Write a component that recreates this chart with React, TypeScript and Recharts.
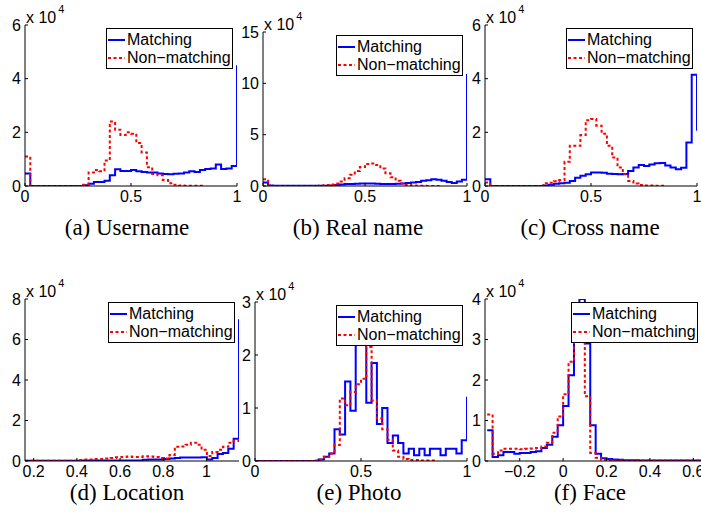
import { LineChart, Line, XAxis, YAxis, Legend } from "recharts";

// values in units of 10^4, one per histogram bin
// (a) Username, bins of 0.025 from 0
const usernameMatch = [0.47, 0, 0, 0, 0, 0, 0, 0, 0, 0, 0, 0.03, 0.08, 0.15, 0.15, 0.2, 0.4, 0.62, 0.56, 0.56, 0.6, 0.55, 0.52, 0.5, 0.5, 0.47, 0.45, 0.44, 0.46, 0.47, 0.5, 0.55, 0.52, 0.6, 0.63, 0.65, 0.8, 0.63, 0.65, 0.75];
const usernameMatchEdge = 4.5;
const usernameNon = [1.1, 0, 0, 0, 0, 0, 0, 0, 0, 0, 0, 0.05, 0.5, 0.6, 0.55, 0.95, 2.4, 2.1, 1.9, 2.0, 1.95, 1.6, 1.25, 0.7, 0.45, 0.4, 0.22, 0.1, 0.05, 0.02, 0.01, 0.01, 0.01, 0.01];

// (b) Real name
const realMatch = [0.35, 0.05, 0.02, 0.02, 0.02, 0.02, 0.02, 0.02, 0.02, 0.02, 0.02, 0.02, 0.02, 0.05, 0.1, 0.15, 0.2, 0.2, 0.22, 0.25, 0.25, 0.25, 0.22, 0.2, 0.2, 0.2, 0.22, 0.25, 0.3, 0.35, 0.4, 0.5, 0.55, 0.65, 0.6, 0.5, 0.4, 0.3, 0.45, 0.6];
const realMatchEdge = 10.9;
const realNon = [0.65, 0.05, 0, 0, 0, 0, 0, 0, 0, 0, 0, 0.05, 0.1, 0.15, 0.25, 0.45, 0.75, 1.1, 1.45, 1.85, 2.15, 2.2, 2.05, 1.7, 1.25, 0.85, 0.5, 0.25, 0.1, 0.05, 0.02, 0.02, 0.01, 0.01, 0.01];

// (c) Cross name
const crossMatch = [0.25, 0, 0, 0, 0, 0, 0, 0, 0, 0, 0, 0.02, 0.05, 0.08, 0.1, 0.12, 0.19, 0.31, 0.38, 0.44, 0.5, 0.5, 0.49, 0.46, 0.45, 0.44, 0.45, 0.56, 0.69, 0.78, 0.75, 0.8, 0.85, 0.86, 0.76, 0.69, 0.62, 0.68, 1.62, 4.15];
const crossMatchEdge = 2.06;
const crossNon = [0.13, 0, 0, 0, 0, 0, 0, 0, 0, 0, 0, 0.1, 0.12, 0.18, 0.22, 0.9, 1.5, 1.5, 1.9, 2.45, 2.5, 2.25, 1.95, 1.5, 1.06, 0.69, 0.44, 0.19, 0.09, 0.04, 0.02, 0.02, 0.01, 0.01];

// (d) Location, bins of 0.02475 from 0.16
const locationMatch = [0.01, 0.01, 0.01, 0.01, 0.01, 0.01, 0.01, 0.01, 0.01, 0.01, 0.01, 0.03, 0.03, 0.03, 0.03, 0.03, 0.03, 0.03, 0.03, 0.03, 0.03, 0.03, 0.06, 0.07, 0.08, 0.08, 0.1, 0.12, 0.15, 0.17, 0.17, 0.17, 0.17, 0.18, 0.08, 0.15, 0.35, 0.4, 0.6, 1.1];
const locationMatchEdge = 7.0;
const locationNon = [0.01, 0.01, 0.01, 0.01, 0.01, 0.01, 0.01, 0.01, 0.01, 0.01, 0.05, 0.07, 0.08, 0.1, 0.1, 0.12, 0.15, 0.18, 0.2, 0.22, 0.2, 0.2, 0.23, 0.22, 0.2, 0.15, 0.12, 0.3, 0.7, 0.72, 0.8, 0.9, 0.8, 0.55, 0.25, 0.45, 0.55, 0.7, 0.9, 1.0];
const locationNonEdge = 0.85;

// (e) Photo
const photoMatch = [0, 0, 0, 0, 0, 0, 0, 0, 0, 0, 0, 0, 0.03, 0.08, 0.14, 0.6, 0.5, 1.5, 0.95, 2.6, 2.4, 1.1, 1.85, 0.7, 1.0, 0.34, 0.48, 0.34, 0.14, 0.23, 0.11, 0.23, 0.11, 0.23, 0.23, 0.11, 0.23, 0.23, 0.14, 0.39];
const photoMatchEdge = 1.21;
const photoNon = [0, 0, 0, 0, 0, 0, 0, 0, 0, 0, 0, 0.01, 0.03, 0.08, 0.14, 0.3, 1.18, 1.05, 1.3, 1.45, 1.55, 2.15, 1.14, 0.8, 0.6, 0.4, 0.2, 0.08, 0.04, 0.02, 0.02, 0.01, 0.01, 0.01];

// (f) Face, bins of 0.025 from -0.35
const faceMatch = [0.76, 0.1, 0.14, 0.22, 0.22, 0.18, 0.2, 0.2, 0.22, 0.24, 0.32, 0.4, 0.6, 0.88, 1.36, 2.12, 2.95, 4.0, 2.9, 0.88, 0.18, 0.07, 0.05, 0.04, 0.03, 0.02, 0.02, 0.02, 0.01, 0.01, 0.01, 0.01, 0.01, 0.01, 0.01, 0.01, 0.01, 0.01, 0.01, 0.01];
const faceNon = [1.15, 0.18, 0.26, 0.3, 0.3, 0.3, 0.29, 0.3, 0.31, 0.32, 0.36, 0.45, 0.7, 1.1, 1.65, 2.45, 3.0, 3.6, 1.6, 0.2, 0.08, 0.03, 0.01, 0.01, 0.01, 0.01, 0.01, 0.01, 0.01, 0.01, 0.01, 0.01, 0.01, 0.01, 0.01, 0.01, 0.01, 0.01, 0.01, 0.01];

const unitTicks = [0, 0.5, 1];
const locationTicks = [0.2, 0.4, 0.6, 0.8, 1];
const faceTicks = [-0.2, 0, 0.2, 0.4, 0.6];

const FONT = '"Liberation Sans", Arial, Helvetica, sans-serif';
const BLUE = "#0000ff";
const RED = "#ff0000";
const DOTS = "3 2.5";

type Pt = { x: number; y: number };

function steps(start: number, width: number, values: number[], edge?: number): Pt[] {
  const pts = values.map((v, i) => ({ x: start + i * width, y: v }));
  pts.push({ x: start + values.length * width, y: edge ?? values[values.length - 1] });
  return pts;
}

const fmt = (v: number) => (v < 0 ? "\u2212" + Math.abs(v) : String(v));

const XTick = (p: any) => (
  <g>
    <line x1={p.x} x2={p.x} y1={p.y - 5} y2={p.y - 8} stroke="#000" />
    <text x={p.x} y={p.y} dy="0.71em" textAnchor="middle" fontSize={16} fontFamily={FONT} fill="#000">
      {fmt(p.payload.value)}
    </text>
  </g>
);

const YTick = (p: any) => (
  <g>
    <line x1={p.x + 4} x2={p.x + 7} y1={p.y} y2={p.y} stroke="#000" />
    <text x={p.x} y={p.y} dy="0.36em" textAnchor="end" fontSize={16} fontFamily={FONT} fill="#000">
      {fmt(p.payload.value)}
    </text>
  </g>
);

const ExpLabel = (p: any) => {
  const vb = p.viewBox;
  const x = vb.x + vb.width + 1;
  return (
    <text x={x} y={vb.y - 2} fontSize={16} fontFamily={FONT} fill="#000">
      x 10
      <tspan dx={2} dy={-10} fontSize={11}>4</tspan>
    </text>
  );
};

const LegendBox = () => (
  <div
    style={{
      boxSizing: "border-box",
      width: 127,
      height: 41,
      border: "1px solid #000",
      background: "#fff",
      fontFamily: FONT,
      fontSize: 16,
      lineHeight: "18px",
      paddingTop: 2,
      color: "#000",
    }}
  >
    {[
      { name: "Matching", color: BLUE, dash: undefined },
      { name: "Non\u2212matching", color: RED, dash: DOTS },
    ].map((r) => (
      <div key={r.name} style={{ display: "flex", alignItems: "center", height: 18 }}>
        <svg width={20} height={18} style={{ flex: "none" }}>
          <line x1={1} x2={18} y1={9} y2={9} stroke={r.color} strokeWidth={2} strokeDasharray={r.dash} />
        </svg>
        <span style={{ whiteSpace: "nowrap" }}>{r.name}</span>
      </div>
    ))}
  </div>
);

type PanelProps = {
  left: number;
  top: number;
  w: number;
  h: number;
  domain: [number, number];
  xTicks: number[];
  yTicks: number[];
  match: Pt[];
  non: Pt[];
};

const YW = 45;
const TOPM = 30;
const BOTM = 30;

function Panel({ left, top, w, h, domain, xTicks, yTicks, match, non }: PanelProps) {
  const yMax = yTicks[yTicks.length - 1];
  return (
    <div style={{ position: "absolute", left: left - YW, top: top - TOPM }}>
      <LineChart width={YW + w + 12} height={TOPM + h + BOTM} margin={{ top: TOPM, right: 12, bottom: 0, left: 0 }}>
        <XAxis
          dataKey="x"
          type="number"
          domain={domain}
          ticks={xTicks}
          interval={0}
          allowDataOverflow
          height={BOTM}
          tickSize={0}
          tickMargin={5}
          tickLine={false}
          axisLine={{ stroke: "#000" }}
          tick={XTick}
        />
        <YAxis
          type="number"
          domain={[0, yMax]}
          ticks={yTicks}
          interval={0}
          allowDataOverflow
          width={YW}
          tickSize={0}
          tickMargin={4}
          tickLine={false}
          axisLine={{ stroke: "#000" }}
          tick={YTick}
          label={ExpLabel}
        />
        <Line data={match} dataKey="y" type="stepAfter" stroke={BLUE} strokeWidth={2} dot={false} activeDot={false} isAnimationActive={false} />
        <Line data={non} dataKey="y" type="stepAfter" stroke={RED} strokeWidth={2} strokeDasharray={DOTS} dot={false} activeDot={false} isAnimationActive={false} />
        <Legend
          layout="horizontal"
          verticalAlign="middle"
          align="center"
          wrapperStyle={{ left: YW + w - 131, top: TOPM + 3, width: 127, height: 41 }}
          content={LegendBox}
        />
      </LineChart>
    </div>
  );
}

const captions = ["(a) Username", "(b) Real name", "(c) Cross name", "(d) Location", "(e) Photo", "(f) Face"];

export default function App() {
  const panels: PanelProps[] = [
    { left: 25, top: 25, w: 212, h: 161, domain: [0, 1], xTicks: unitTicks, yTicks: [0, 2, 4, 6], match: steps(0, 0.025, usernameMatch, usernameMatchEdge), non: steps(0, 0.025, usernameNon) },
    { left: 263, top: 32, w: 204, h: 154, domain: [0, 1], xTicks: unitTicks, yTicks: [0, 5, 10, 15], match: steps(0, 0.025, realMatch, realMatchEdge), non: steps(0, 0.025, realNon) },
    { left: 485, top: 25, w: 212, h: 161, domain: [0, 1], xTicks: unitTicks, yTicks: [0, 2, 4, 6], match: steps(0, 0.025, crossMatch, crossMatchEdge), non: steps(0, 0.025, crossNon) },
    { left: 25, top: 299, w: 214, h: 162, domain: [0.16, 1.15], xTicks: locationTicks, yTicks: [0, 2, 4, 6, 8], match: steps(0.16, 0.02475, locationMatch, locationMatchEdge), non: steps(0.16, 0.02475, locationNon, locationNonEdge) },
    { left: 255, top: 302, w: 212, h: 159, domain: [0, 1], xTicks: unitTicks, yTicks: [0, 1, 2, 3], match: steps(0, 0.025, photoMatch, photoMatchEdge), non: steps(0, 0.025, photoNon) },
    { left: 485, top: 299, w: 217, h: 162, domain: [-0.36, 0.64], xTicks: faceTicks, yTicks: [0, 1, 2, 3, 4], match: steps(-0.35, 0.025, faceMatch), non: steps(-0.35, 0.025, faceNon) },
  ];
  const capPos = [
    [127, 228], [358, 228], [590, 228],
    [127, 493], [359, 493], [590, 493],
  ];
  return (
    <div style={{ position: "absolute", left: 0, top: 0, width: 701, height: 518, overflow: "hidden", background: "#fff" }}>
      {panels.map((p, i) => (
        <Panel key={i} {...p} />
      ))}
      {captions.map((c, i) => (
        <div
          key={c}
          style={{
            position: "absolute",
            left: capPos[i][0] - 100,
            top: capPos[i][1] - 14,
            width: 200,
            textAlign: "center",
            fontFamily: '"Liberation Serif", "Times New Roman", serif',
            fontSize: 23,
            lineHeight: "28px",
            color: "#000",
            whiteSpace: "nowrap",
          }}
        >
          {c}
        </div>
      ))}
    </div>
  );
}
